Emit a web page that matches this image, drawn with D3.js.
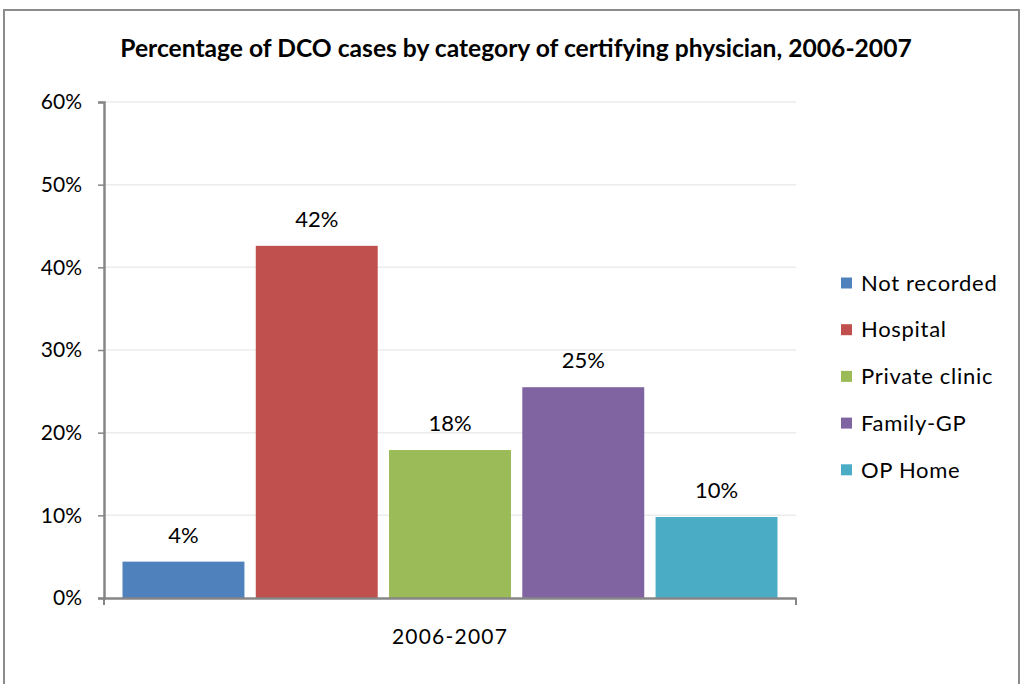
<!DOCTYPE html>
<html>
<head>
<meta charset="utf-8">
<script src="https://cdn.jsdelivr.net/npm/d3@7"></script>
<style>
  body { margin: 0; background: #fff; }
  svg { display: block; }
</style>
</head>
<body>
<div id="chart"></div>
<script>
// data
const series = ["Not recorded", "Hospital", "Private clinic", "Family-GP", "OP Home"]
const values = [0.044, 0.426, 0.179, 0.255, 0.098]
const valueLabels = ["4%", "42%", "18%", "25%", "10%"]
const colors = ["#4F81BD", "#C0504D", "#9BBB59", "#8064A2", "#4BACC6"]
const yTicks = [0, 0.1, 0.2, 0.3, 0.4, 0.5, 0.6]
const category = "2006-2007"
const title = "Percentage of DCO cases by category of certifying physician, 2006-2007"

const width = 1021, height = 684
const font = "Lato, 'Open Sans', sans-serif"

let plot = { left: 104, right: 796, top: 102, bottom: 598 }

let svg = d3.select("#chart").append("svg")
    .attr("width", width)
    .attr("height", height)

// outer chart border
svg.append("rect")
    .attr("x", 4).attr("y", 10)
    .attr("width", 1015).attr("height", 700)
    .attr("fill", "#fff")
    .attr("stroke", "#8c8c8c")
    .attr("stroke-width", 2)

// title, fitted to the width it has in the picture
let titleE = svg.append("text")
    .attr("x", 516).attr("y", 57)
    .attr("text-anchor", "middle")
    .attr("font-family", font)
    .attr("font-weight", "bold")
    .attr("font-size", 21)
    .attr("fill", "#000")
    .text(title)
let tw = titleE.node().getComputedTextLength()
titleE.attr("font-size", 21 * 792 / tw)

let y = d3.scaleLinear().domain([0, 0.6]).range([plot.bottom, plot.top])
let x = d3.scaleBand().domain(series)
    .range([plot.left + 18.5, plot.right - 18.5])
    .paddingInner(0.085)

// gridlines
svg.append("g")
    .selectAll("line")
    .data(yTicks.filter(d => d > 0))
    .join("line")
    .attr("x1", plot.left).attr("x2", plot.right)
    .attr("y1", d => y(d)).attr("y2", d => y(d))
    .attr("stroke", "#ececec")
    .attr("stroke-width", 1.5)

// bars
svg.append("g")
    .selectAll("rect")
    .data(values)
    .join("rect")
    .attr("x", (d, i) => x(series[i]))
    .attr("y", d => y(d))
    .attr("width", x.bandwidth())
    .attr("height", d => plot.bottom - y(d))
    .attr("fill", (d, i) => colors[i])

// value labels
svg.append("g")
    .selectAll("text")
    .data(values)
    .join("text")
    .attr("x", (d, i) => x(series[i]) + x.bandwidth() / 2)
    .attr("y", d => y(d) - 19)
    .attr("text-anchor", "middle")
    .attr("font-family", font)
    .attr("font-size", 22)
    .attr("fill", "#000")
    .text((d, i) => valueLabels[i])

// y axis
let yAxis = svg.append("g")
    .attr("transform", "translate(" + plot.left + ",0)")
    .call(d3.axisLeft(y).tickValues(yTicks).tickFormat(d3.format(".0%")).tickSize(6).tickPadding(16))
yAxis.select(".domain").attr("stroke", "#868686").attr("stroke-width", 2.5)
yAxis.selectAll(".tick line").attr("stroke", "#868686").attr("stroke-width", 1.5)
yAxis.selectAll(".tick text")
    .attr("font-family", font)
    .attr("font-size", 21)
    .attr("fill", "#000")

// x axis, one category with end ticks
let xc = d3.scaleBand().domain([category]).range([plot.left, plot.right])
let xAxis = svg.append("g")
    .attr("transform", "translate(0," + plot.bottom + ")")
    .call(d3.axisBottom(xc).tickSize(0).tickPadding(31))
xAxis.select(".domain").attr("stroke", "#868686").attr("stroke-width", 2.5)
xAxis.selectAll(".tick text")
    .attr("font-family", font)
    .attr("font-size", 21)
    .attr("letter-spacing", 1.2)
    .attr("fill", "#000")
svg.append("g")
    .selectAll("line")
    .data(xc.range())
    .join("line")
    .attr("x1", d => d).attr("x2", d => d)
    .attr("y1", plot.bottom).attr("y2", plot.bottom + 7)
    .attr("stroke", "#868686")
    .attr("stroke-width", 2)

// legend
let legend = svg.append("g")
    .selectAll("g")
    .data(series)
    .join("g")
    .attr("transform", (d, i) => "translate(841," + (283 + i * 46.7) + ")")
legend.append("rect")
    .attr("x", 0).attr("y", -5.5)
    .attr("width", 11).attr("height", 11)
    .attr("fill", (d, i) => colors[i])
legend.append("text")
    .attr("x", 20).attr("y", 0)
    .attr("dy", "0.35em")
    .attr("font-family", font)
    .attr("font-size", 22)
    .attr("letter-spacing", 0.7)
    .attr("fill", "#000")
    .text(d => d)
</script>
</body>
</html>
